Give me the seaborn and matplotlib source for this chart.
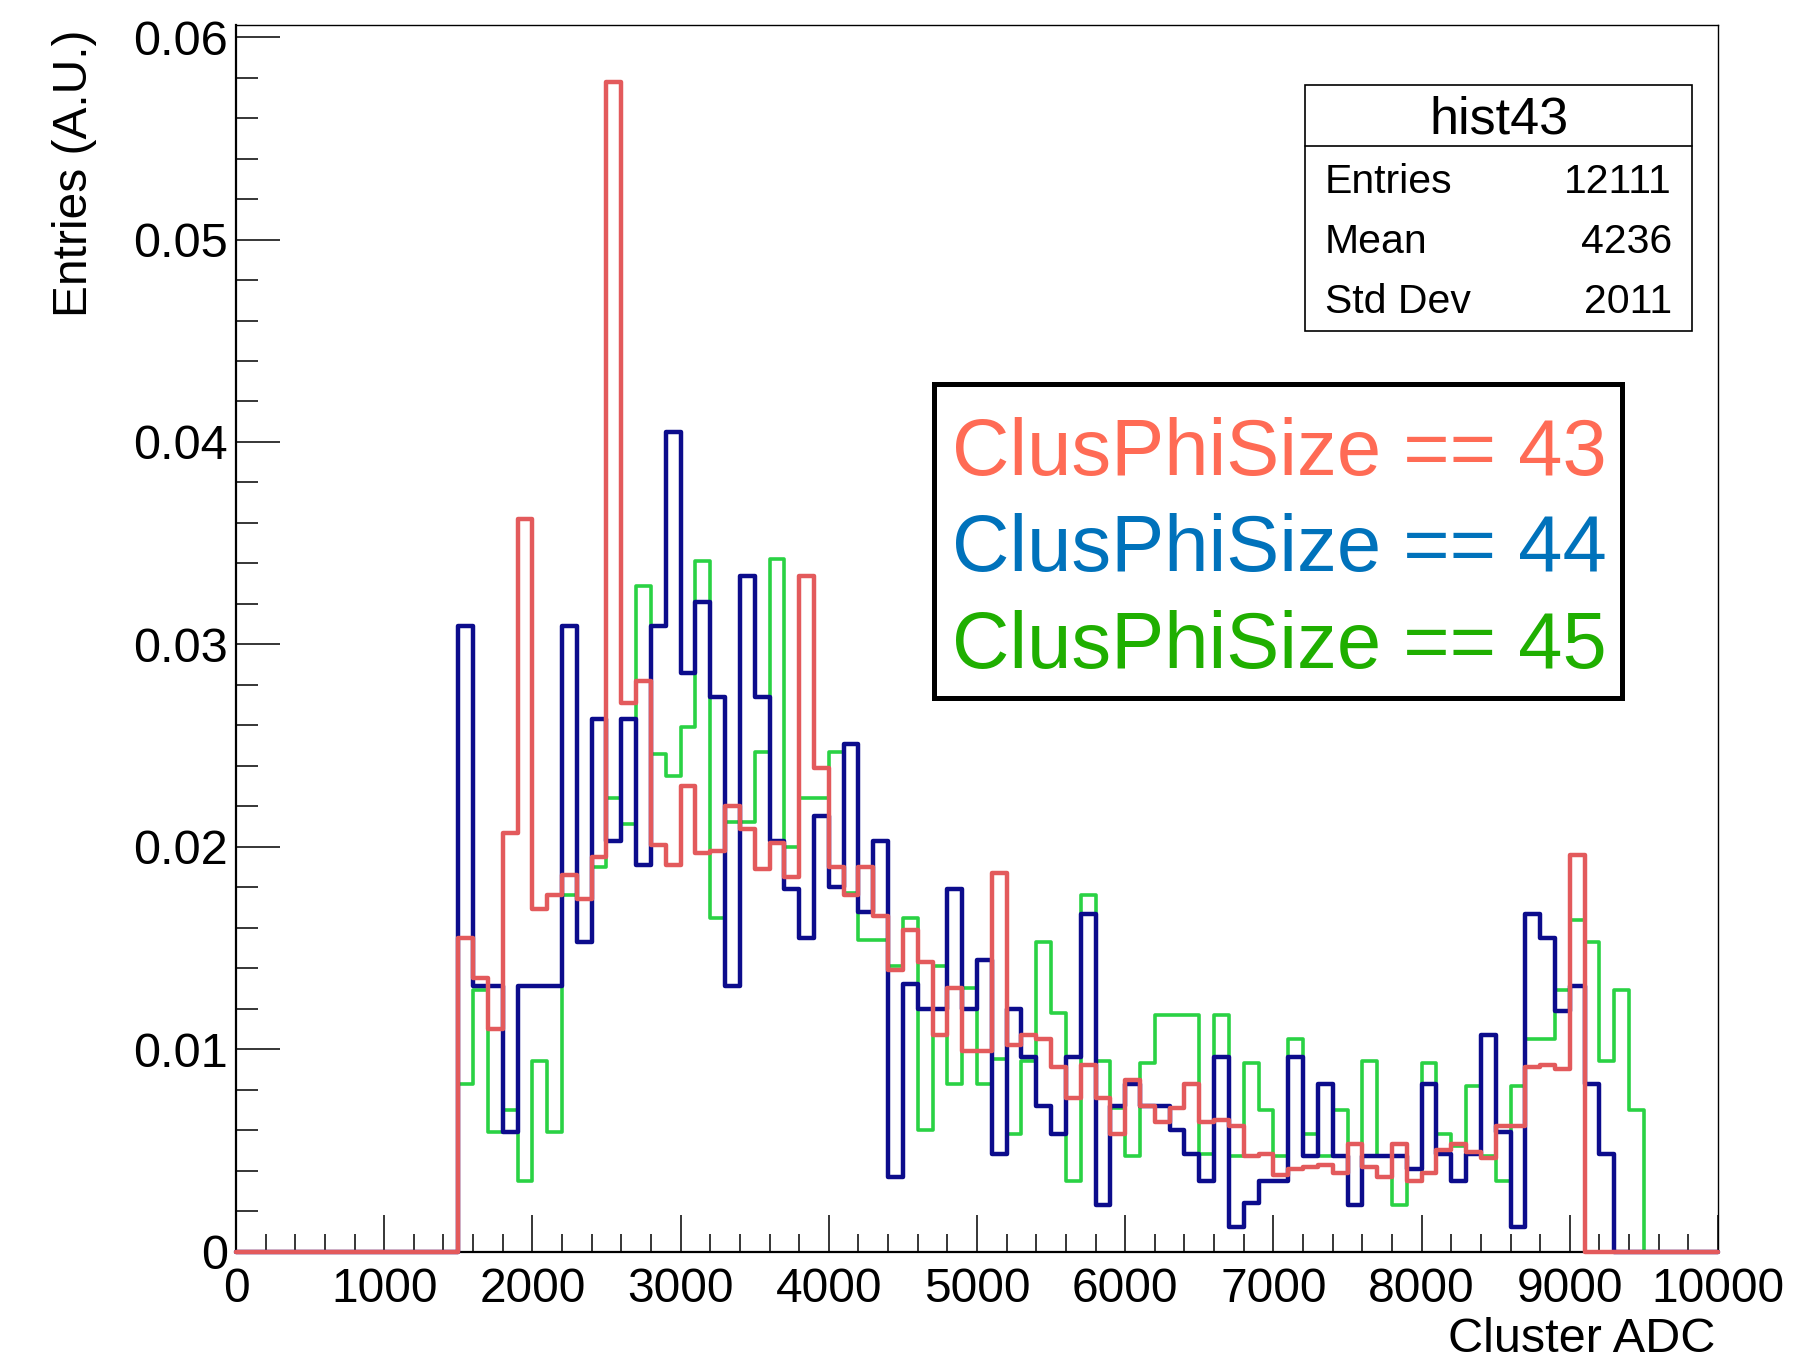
import numpy as np
import pandas as pd
import matplotlib
matplotlib.use("Agg")
import matplotlib.pyplot as plt
import seaborn as sns
from matplotlib.patches import Rectangle
from matplotlib.ticker import FixedLocator, FixedFormatter, MultipleLocator

# Histogram binning (ADC counts)
adc_min, adc_max = 0, 10000
bin_width = 100
first_filled_bin = 1500

# Normalised bin contents, one value per 100-ADC bin starting at 1500
size43 = [
    0.0155, 0.0135, 0.0110, 0.0207, 0.0362,
    0.0169, 0.0176, 0.0186, 0.0174, 0.0195,
    0.0578, 0.0271, 0.0282, 0.0201, 0.0191,
    0.0230, 0.0197, 0.0198, 0.0220, 0.0209,
    0.0189, 0.0202, 0.0185, 0.0334, 0.0239,
    0.0190, 0.0176, 0.0190, 0.0166, 0.0139,
    0.0159, 0.0143, 0.0107, 0.0130, 0.0099,
    0.0099, 0.0187, 0.0102, 0.0107, 0.0105,
    0.0091, 0.0076, 0.0092, 0.0076, 0.0058,
    0.0085, 0.0072, 0.0064, 0.0071, 0.0083,
    0.0064, 0.0065, 0.0062, 0.0047, 0.0048,
    0.0038, 0.0041, 0.0042, 0.0043, 0.0039,
    0.0053, 0.0042, 0.0037, 0.0053, 0.0035,
    0.0039, 0.0050, 0.0053, 0.0049, 0.0046,
    0.0062, 0.0062, 0.0091, 0.0092, 0.0090,
    0.0196, 0.0, 0.0, 0.0, 0.0,
]
size44 = [
    0.0309, 0.0131, 0.0131, 0.0059, 0.0131,
    0.0131, 0.0131, 0.0309, 0.0153, 0.0263,
    0.0203, 0.0263, 0.0191, 0.0309, 0.0405,
    0.0286, 0.0321, 0.0274, 0.0131, 0.0334,
    0.0274, 0.0203, 0.0179, 0.0155, 0.0215,
    0.0180, 0.0251, 0.0168, 0.0203, 0.0037,
    0.0132, 0.0120, 0.0120, 0.0179, 0.0120,
    0.0144, 0.0048, 0.0120, 0.0096, 0.0072,
    0.0058, 0.0096, 0.0167, 0.0023, 0.0072,
    0.0083, 0.0072, 0.0072, 0.0060, 0.0048,
    0.0035, 0.0096, 0.0012, 0.0024, 0.0035,
    0.0035, 0.0096, 0.0047, 0.0083, 0.0047,
    0.0023, 0.0047, 0.0047, 0.0047, 0.0041,
    0.0083, 0.0048, 0.0035, 0.0048, 0.0107,
    0.0059, 0.0012, 0.0167, 0.0155, 0.0119,
    0.0131, 0.0083, 0.0048, 0.0, 0.0,
]
size45 = [
    0.0083, 0.0129, 0.0059, 0.0070, 0.0035,
    0.0094, 0.0059, 0.0176, 0.0174, 0.0190,
    0.0224, 0.0211, 0.0329, 0.0246, 0.0235,
    0.0259, 0.0341, 0.0165, 0.0212, 0.0212,
    0.0247, 0.0342, 0.0200, 0.0224, 0.0224,
    0.0247, 0.0177, 0.0154, 0.0154, 0.0141,
    0.0165, 0.0060, 0.0141, 0.0083, 0.0130,
    0.0083, 0.0095, 0.0058, 0.0094, 0.0153,
    0.0118, 0.0035, 0.0176, 0.0094, 0.0071,
    0.0047, 0.0093, 0.0117, 0.0117, 0.0117,
    0.0048, 0.0117, 0.0047, 0.0093, 0.0070,
    0.0047, 0.0105, 0.0058, 0.0047, 0.0070,
    0.0053, 0.0094, 0.0047, 0.0023, 0.0035,
    0.0093, 0.0058, 0.0052, 0.0082, 0.0047,
    0.0035, 0.0082, 0.0105, 0.0105, 0.0129,
    0.0164, 0.0153, 0.0094, 0.0129, 0.0070,
]

series_labels = ["ClusPhiSize == 43", "ClusPhiSize == 44", "ClusPhiSize == 45"]

x_ticks = [0, 1000, 2000, 3000, 4000, 5000, 6000, 7000, 8000, 9000, 10000]
x_tick_labels = ["0", "1000", "2000", "3000", "4000", "5000",
                 "6000", "7000", "8000", "9000", "10000"]
y_ticks = [0.0, 0.01, 0.02, 0.03, 0.04, 0.05, 0.06]
y_tick_labels = ["0", "0.01", "0.02", "0.03", "0.04", "0.05", "0.06"]

stats_title = "hist43"
stats_names = ["Entries", "Mean", "Std Dev"]
stats_values = ["12111", "4236", "2011"]

# Styles
line_colors = {"ClusPhiSize == 43": "#E35A5C",
               "ClusPhiSize == 44": "#0C0C8C",
               "ClusPhiSize == 45": "#2AD244"}
line_widths = {"ClusPhiSize == 43": 3.2,
               "ClusPhiSize == 44": 3.2,
               "ClusPhiSize == 45": 2.6}
text_colors = {"ClusPhiSize == 43": "#FF6B55",
               "ClusPhiSize == 44": "#0072BB",
               "ClusPhiSize == 45": "#1FAF00"}
draw_order = ["ClusPhiSize == 45", "ClusPhiSize == 44", "ClusPhiSize == 43"]

sns.set_style("ticks")
plt.rcParams["font.family"] = ["Liberation Sans", "DejaVu Sans"]
plt.rcParams["text.color"] = "black"
plt.rcParams["axes.labelcolor"] = "black"
plt.rcParams["xtick.color"] = "black"
plt.rcParams["ytick.color"] = "black"

# Long-form table: one row per filled bin (bin centre + weight)
n_bins = len(size43)
centres = first_filled_bin + bin_width * (np.arange(n_bins) + 0.5)
frames = []
for label, vals in zip(series_labels, [size43, size44, size45]):
    frames.append(pd.DataFrame({"adc": centres, "weight": vals, "series": label}))
df = pd.concat(frames, ignore_index=True)

fig = plt.figure(figsize=(18.18, 13.69), dpi=100)
ax = fig.add_axes([0.1298, 0.0858, 0.8152, 0.8959])

for z, label in enumerate(draw_order):
    sub = df[df["series"] == label]
    sns.histplot(data=sub, x="adc", weights="weight",
                 binwidth=bin_width, binrange=(adc_min, adc_max),
                 element="step", fill=False, color=line_colors[label],
                 linewidth=line_widths[label], clip_on=False,
                 zorder=3 + z, ax=ax)

ax.set_xlim(adc_min, adc_max)
ax.set_ylim(0, 0.0606)

# Axis frame
for side in ["left", "bottom"]:
    ax.spines[side].set_linewidth(1.6)
for side in ["top", "right"]:
    ax.spines[side].set_linewidth(1.0)
for sp in ax.spines.values():
    sp.set_color("black")
    sp.set_zorder(2)

ax.xaxis.set_major_locator(FixedLocator(x_ticks))
ax.xaxis.set_major_formatter(FixedFormatter(x_tick_labels))
ax.xaxis.set_minor_locator(MultipleLocator(200))
ax.yaxis.set_major_locator(FixedLocator(y_ticks))
ax.yaxis.set_major_formatter(FixedFormatter(y_tick_labels))
ax.yaxis.set_minor_locator(MultipleLocator(0.002))

ax.tick_params(axis="x", which="major", direction="in", length=26.6, width=1.1,
               pad=11, labelsize=34.5, top=False, colors="black")
ax.tick_params(axis="x", which="minor", direction="in", length=13, width=1.1,
               top=False, colors="black")
ax.tick_params(axis="y", which="major", direction="in", length=31.7, width=1.1,
               pad=6, labelsize=35, right=False, colors="black")
ax.tick_params(axis="y", which="minor", direction="in", length=15.8, width=1.1,
               right=False, colors="black")

ax.set_xlabel("Cluster ADC", fontsize=35, loc="right", color="black")
ax.xaxis.set_label_coords(0.998, -0.053)
ax.set_ylabel("Entries (A.U.)", fontsize=34.5, loc="top", color="black")
ax.yaxis.set_label_coords(-0.0939, 0.9965)

# Statistics box
sx0, sx1 = 0.7213, 0.9825
sy0, sy1, sdiv = 0.7505, 0.9511, 0.9014
ax.add_patch(Rectangle((sx0, sy0), sx1 - sx0, sy1 - sy0, transform=ax.transAxes,
                       facecolor="white", edgecolor="black", linewidth=1.2,
                       zorder=10, clip_on=False))
ax.plot([sx0, sx1], [sdiv, sdiv], transform=ax.transAxes, color="black",
        linewidth=1.2, zorder=11, clip_on=False)
ax.text((sx0 + sx1) / 2, 0.9117, stats_title, transform=ax.transAxes,
        ha="center", va="baseline", fontsize=37.5, color="black", zorder=12)
for name, value, yb in zip(stats_names, stats_values, [0.8628, 0.8139, 0.7650]):
    ax.text(0.7348, yb, name, transform=ax.transAxes, ha="left",
            va="baseline", fontsize=29.5, color="black", zorder=12)
    ax.text(0.9690, yb, value, transform=ax.transAxes, ha="right",
            va="baseline", fontsize=29.5, color="black", zorder=12)

# Coloured label box
lx0, lx1 = 0.4710, 0.9352
ly0, ly1 = 0.4513, 0.7073
ax.add_patch(Rectangle((lx0, ly0), lx1 - lx0, ly1 - ly0, transform=ax.transAxes,
                       facecolor="white", edgecolor="black", linewidth=3.6,
                       zorder=10, clip_on=False))
for label, yb in zip(series_labels, [0.6331, 0.5548, 0.4757]):
    ax.text(0.4830, yb, label, transform=ax.transAxes, ha="left",
            va="baseline", fontsize=57.3, color=text_colors[label], zorder=12)

fig.savefig("out.png", dpi=100, facecolor="white")
